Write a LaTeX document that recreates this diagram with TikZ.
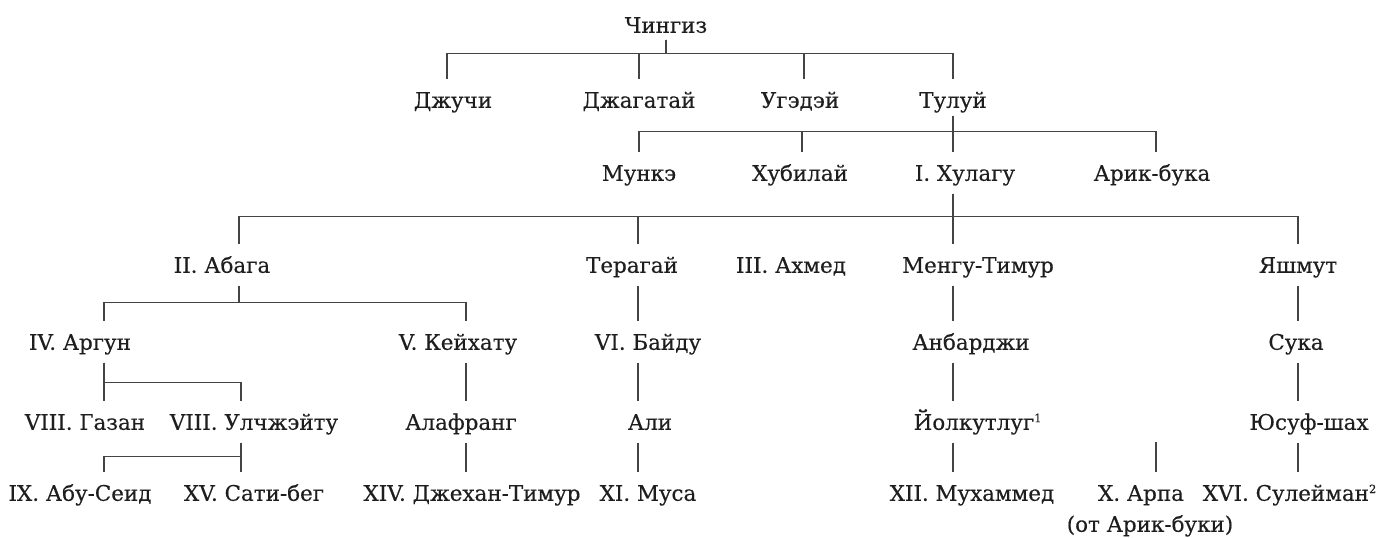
\documentclass[tikz,border=0pt]{standalone}
\usepackage{fontspec}
\setmainfont{DejaVu Serif}
\newfontfamily\treefont{DejaVu Serif}[FakeBold=0.35]
\definecolor{ink}{HTML}{1E1E1E}
\definecolor{rule}{HTML}{444444}
% text of a node moved sideways from its line, by #1 px
\newcommand\shft[2]{\makebox[0pt]{\hspace*{#1\dimexpr0.4mm\relax}#2}}
\newcommand\fnote[1]{\textsuperscript{\fontsize{6.5}{7}\selectfont #1}}

\begin{document}
\begin{tikzpicture}
            [x=0.2mm, y=-0.2mm, semithick,
             person/.style={inner sep=0pt, minimum height=8mm, text height=3.1mm, text depth=0pt,
                            text=ink, font=\treefont\fontsize{12.2}{14}\selectfont},
             link/.style={draw=rule, line width=1pt}]
            \useasboundingbox (0,0) rectangle (1380,537);

            \node[person,minimum height=5.6mm] (ching) at (666, 25) {\shft{0}{Чингиз}};

            \node[person] (juchi) at (447, 100) {\shft{6}{Джучи}};
            \node[person] (jagatai) at (639, 100) {\shft{0}{Джагатай}};
            \node[person] (ugedei) at (804, 100) {\shft{-4}{Угэдэй}};
            \node[person] (tului) at (953, 100) {\shft{0}{Тулуй}};

            \node[person] (munke) at (639, 173) {\shft{0}{Мункэ}};
            \node[person] (khubilai) at (802, 173) {\shft{-2}{Хубилай}};
            \node[person] (khulagu) at (953, 173) {\shft{12}{I. Хулагу}};
            \node[person] (arikbuka) at (1156, 173) {\shft{-4}{Арик-бука}};

            \node[person] (abaga) at (239, 265) {\shft{-17}{II. Абага}};
            \node[person] (teragai) at (638, 265) {\shft{-6}{Терагай}};
            \node[person] (akhmed) at (791, 265) {\shft{0}{III. Ахмед}};
            \node[person] (mengu) at (953, 265) {\shft{25}{Менгу-Тимур}};
            \node[person] (yashmut) at (1298, 265) {\shft{0}{Яшмут}};

            \node[person] (argun) at (104, 342) {\shft{-24}{IV. Аргун}};
            \node[person] (keyhatu) at (466, 342) {\shft{-8}{V. Кейхату}};
            \node[person] (baidu) at (638, 342) {\shft{10}{VI. Байду}};
            \node[person] (anbarji) at (953, 342) {\shft{18}{Анбарджи}};
            \node[person] (suka) at (1298, 342) {\shft{-2}{Сука}};

            \node[person] (gazan) at (104, 422) {\shft{-19}{VIII. Газан}};
            \node[person] (ulchzheitu) at (241, 422) {\shft{13}{VIII. Улчжэйту}};
            \node[person] (alafrang) at (466, 422) {\shft{-5}{Алафранг}};
            \node[person] (ali) at (638, 422) {\shft{12}{Али}};
            \node[person] (yolkutlug) at (953, 422) {\shft{25}{Йолкутлуг\fnote{1}}};
            \node[person] (yusuf) at (1298, 422) {\shft{11}{Юсуф-шах}};

            \node[person] (abuseid) at (104, 493) {\shft{-24}{IX. Абу-Сеид}};
            \node[person] (satibeg) at (241, 493) {\shft{13}{XV. Сати-бег}};
            \node[person] (jehan) at (466, 493) {\shft{6}{XIV. Джехан-Тимур}};
            \node[person] (musa) at (638, 493) {\shft{10}{XI. Муса}};
            \node[person] (mukhammed) at (953, 493) {\shft{19}{XII. Мухаммед}};
            \node[person] (arpa) at (1156, 493) {\shft{-15}{X. Арпа}};
            \node[person] (suleiman) at (1298, 493) {\shft{-8}{XVI. Сулейман\fnote{2}}};
            \node[person,minimum height=0pt] (fromarik) at (1150, 524) {(от Арик-буки)};
            \coordinate (arpatop) at (1156, 442);

            % brothers hang from a bar under the father
            \foreach \c in {juchi, jagatai, ugedei, tului}
                \draw[link] (ching.south) -- ++(0,14) -| (\c.north);
            \foreach \c in {munke, khubilai, khulagu, arikbuka}
                \draw[link, shorten <=-1mm] (tului.south) -- ++(0,11) -| (\c.north);
            \foreach \c in {abaga, teragai, mengu, yashmut}
                \draw[link] (khulagu.south) -- ++(0,23) -| (\c.north);
            \foreach \c in {argun, keyhatu}
                \draw[link] (abaga.south) -- ++(0,17) -| (\c.north);
            \foreach \c in {gazan, ulchzheitu}
                \draw[link] (argun.south) -- ++(0,20) -| (\c.north);
            \foreach \c in {abuseid, satibeg}
                \draw[link] (ulchzheitu.south) -- ++(0,14) -| (\c.north);

            % single lines
            \draw[link] (teragai.south) -- (baidu.north);
            \draw[link] (baidu.south) -- (ali.north);
            \draw[link] (ali.south) -- (musa.north);
            \draw[link] (keyhatu.south) -- (alafrang.north);
            \draw[link] (alafrang.south) -- (jehan.north);
            \draw[link] (mengu.south) -- (anbarji.north);
            \draw[link] (anbarji.south) -- (yolkutlug.north);
            \draw[link] (yolkutlug.south) -- (mukhammed.north);
            \draw[link] (yashmut.south) -- (suka.north);
            \draw[link] (suka.south) -- (yusuf.north);
            \draw[link] (yusuf.south) -- (suleiman.north);
            \draw[link] (arpatop) -- (arpa.north);
        \end{tikzpicture}
\end{document}
